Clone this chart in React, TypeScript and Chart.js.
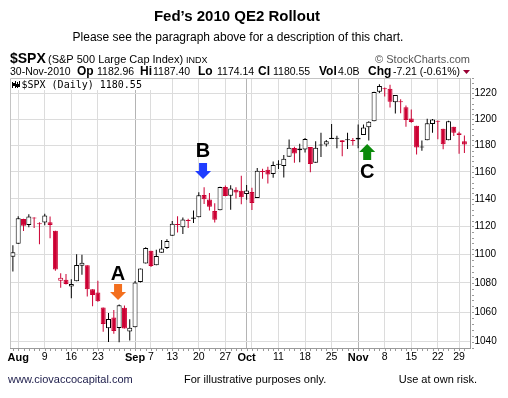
import React, { useEffect, useRef } from 'react';
import { Chart, registerables } from 'chart.js';

Chart.register(...registerables);

const FONT = '"Liberation Sans", Arial, Helvetica, sans-serif';
const MONO = '"DejaVu Sans Mono", "Liberation Mono", monospace';

// Trading days, 30-Jul-2010 .. 30-Nov-2010
const dates = [
  'Jul30',
  'Aug2', 'Aug3', 'Aug4', 'Aug5', 'Aug6', 'Aug9', 'Aug10', 'Aug11', 'Aug12', 'Aug13',
  'Aug16', 'Aug17', 'Aug18', 'Aug19', 'Aug20', 'Aug23', 'Aug24', 'Aug25', 'Aug26', 'Aug27',
  'Aug30', 'Aug31', 'Sep1', 'Sep2', 'Sep3', 'Sep7', 'Sep8', 'Sep9', 'Sep10',
  'Sep13', 'Sep14', 'Sep15', 'Sep16', 'Sep17', 'Sep20', 'Sep21', 'Sep22', 'Sep23', 'Sep24',
  'Sep27', 'Sep28', 'Sep29', 'Sep30', 'Oct1', 'Oct4', 'Oct5', 'Oct6', 'Oct7', 'Oct8',
  'Oct11', 'Oct12', 'Oct13', 'Oct14', 'Oct15', 'Oct18', 'Oct19', 'Oct20', 'Oct21', 'Oct22',
  'Oct25', 'Oct26', 'Oct27', 'Oct28', 'Oct29', 'Nov1', 'Nov2', 'Nov3', 'Nov4', 'Nov5',
  'Nov8', 'Nov9', 'Nov10', 'Nov11', 'Nov12', 'Nov15', 'Nov16', 'Nov17', 'Nov18', 'Nov19',
  'Nov22', 'Nov23', 'Nov24', 'Nov26', 'Nov29', 'Nov30',
];

const opens = [
  1098.44,
  1107.53, 1125.34, 1121.06, 1125.78, 1122.07, 1122.80, 1122.92, 1116.89, 1081.48, 1082.22,
  1077.49, 1081.16, 1092.08, 1092.44, 1075.63, 1073.36, 1063.20, 1048.98, 1056.28, 1049.27,
  1062.90, 1046.88, 1049.72, 1080.66, 1093.61, 1102.60, 1092.36, 1101.15, 1104.57,
  1113.38, 1121.16, 1119.43, 1123.89, 1126.39, 1126.57, 1142.82, 1139.49, 1131.10, 1131.69,
  1148.64, 1142.31, 1146.75, 1145.97, 1143.49, 1144.96, 1140.68, 1159.81, 1161.57, 1158.36,
  1165.32, 1164.28, 1171.32, 1177.82, 1177.47, 1176.83, 1178.64, 1166.74, 1179.82, 1180.52,
  1184.74, 1184.88, 1183.84, 1184.47, 1183.87, 1185.71, 1187.86, 1193.79, 1198.34, 1221.20,
  1223.24, 1223.59, 1213.14, 1213.04, 1209.07, 1200.44, 1194.79, 1178.33, 1183.75, 1196.12,
  1198.07, 1192.51, 1183.70, 1194.16, 1189.08, 1182.96,
];

const highs = [
  1106.44,
  1127.30, 1125.44, 1128.75, 1126.56, 1123.06, 1129.24, 1127.16, 1116.89, 1086.72, 1086.25,
  1082.62, 1100.14, 1099.77, 1092.44, 1075.63, 1081.58, 1063.20, 1059.38, 1061.45, 1065.21,
  1064.40, 1055.14, 1081.30, 1090.10, 1105.10, 1102.60, 1103.26, 1110.27, 1110.88,
  1123.87, 1127.36, 1126.46, 1125.44, 1131.47, 1144.86, 1148.59, 1144.38, 1136.77, 1148.90,
  1149.92, 1150.00, 1148.63, 1157.16, 1150.30, 1148.16, 1162.76, 1162.33, 1163.87, 1167.73,
  1168.68, 1172.58, 1184.38, 1178.89, 1181.20, 1185.53, 1178.64, 1182.94, 1189.43, 1183.93,
  1196.14, 1187.11, 1183.84, 1189.53, 1185.46, 1195.81, 1195.88, 1198.30, 1221.25, 1227.08,
  1224.57, 1226.84, 1218.75, 1215.45, 1210.50, 1207.43, 1194.79, 1183.56, 1200.29, 1199.97,
  1198.94, 1192.51, 1198.62, 1194.16, 1190.34, 1187.40,
];

const lows = [
  1088.01,
  1107.53, 1116.76, 1119.46, 1118.81, 1107.17, 1120.91, 1111.58, 1088.55, 1076.69, 1079.00,
  1069.49, 1081.16, 1085.76, 1070.66, 1063.91, 1067.08, 1046.68, 1039.83, 1045.40, 1039.70,
  1048.79, 1040.88, 1049.72, 1080.39, 1093.61, 1091.15, 1092.36, 1101.15, 1103.92,
  1113.38, 1115.58, 1114.63, 1118.88, 1122.43, 1126.57, 1136.22, 1131.58, 1122.79, 1131.69,
  1142.00, 1132.09, 1140.26, 1136.08, 1139.42, 1131.87, 1140.68, 1154.85, 1151.41, 1155.58,
  1162.02, 1155.71, 1171.32, 1166.71, 1167.12, 1174.55, 1159.71, 1166.74, 1171.17, 1178.99,
  1184.74, 1177.72, 1171.70, 1177.10, 1179.70, 1177.65, 1187.86, 1183.56, 1198.34, 1220.29,
  1217.55, 1208.94, 1204.33, 1204.49, 1194.08, 1197.15, 1173.00, 1175.82, 1183.75, 1189.44,
  1184.58, 1176.91, 1183.70, 1186.93, 1173.64, 1174.14,
];

const closes = [
  1101.60,
  1125.86, 1120.46, 1127.24, 1125.81, 1121.64, 1127.79, 1121.06, 1089.47, 1083.61, 1079.25,
  1079.38, 1092.54, 1094.16, 1075.63, 1071.69, 1067.36, 1051.87, 1055.33, 1047.22, 1064.59,
  1048.92, 1049.33, 1080.29, 1090.10, 1104.51, 1091.84, 1098.87, 1104.18, 1109.55,
  1121.90, 1121.10, 1125.07, 1124.66, 1125.59, 1142.71, 1139.78, 1134.28, 1124.83, 1148.67,
  1142.16, 1147.70, 1144.73, 1141.20, 1146.24, 1137.03, 1160.75, 1159.97, 1158.06, 1165.15,
  1165.32, 1169.77, 1178.10, 1173.81, 1176.19, 1184.71, 1165.90, 1178.17, 1180.26, 1183.08,
  1185.62, 1185.64, 1182.45, 1183.78, 1183.26, 1184.38, 1193.57, 1197.96, 1221.06, 1225.85,
  1223.25, 1213.40, 1218.71, 1213.54, 1199.21, 1197.75, 1178.34, 1178.59, 1196.69, 1199.73,
  1197.84, 1180.73, 1198.35, 1189.40, 1187.76, 1180.55,
];

const priorClose = 1101.53; // close of 29-Jul-2010
const volumeText = '4.0B';

const xTickIndex = [1, 6, 11, 16, 23, 26, 30, 35, 40, 44, 45, 50, 55, 60, 65, 70, 75, 80, 84];
const xTickLabels = ['Aug', '9', '16', '23', 'Sep', '7', '13', '20', '27', 'Oct', '', '11', '18', '25', 'Nov', '8', '15', '22', '29'];
const boldTickLabels = ['Aug', 'Sep', 'Oct', 'Nov'];
const darkGridLabels = ['Sep', 'Oct', 'Nov'];
const yTicks = [1040, 1060, 1080, 1100, 1120, 1140, 1160, 1180, 1200, 1220];

const markLabels = ['A', 'B', 'C'];
const markIndex = [19.8, 35.8, 66.7];
const markTip = [1068.3, 1154.6, 1180.9];
const markTextBase = [1082.1, 1170.8, 1155.1];
const markDir = ['down', 'down', 'up'];
const markColor = ['#f36f1e', '#1f3dff', '#0b8a0b'];

const RED = '#cc0033';

function labelFor(v: number): string {
  const k = xTickIndex.indexOf(v);
  return k >= 0 ? xTickLabels[k] : '';
}

function txt(ctx: CanvasRenderingContext2D, s: string, x: number, y: number, font: string, color = '#000', align: CanvasTextAlign = 'left') {
  ctx.font = font;
  ctx.fillStyle = color;
  ctx.textAlign = align;
  ctx.textBaseline = 'alphabetic';
  ctx.fillText(s, x, y);
}

export default function App() {
  const ref = useRef<HTMLCanvasElement>(null);

  useEffect(() => {
    const canvas = ref.current;
    if (!canvas) return;
    const last = closes.length - 1;
    const col = closes.map((c, i) => (c >= (i === 0 ? priorClose : closes[i - 1]) ? '#000000' : RED));
    const hollow = closes.map((c, i) => c >= opens[i]);

    const decor = {
      id: 'decor',
      beforeDraw(chart: any) {
        const ctx = chart.ctx as CanvasRenderingContext2D;
        ctx.save();
        ctx.fillStyle = '#ffffff';
        ctx.fillRect(0, 0, chart.width, chart.height);
        ctx.restore();
      },
      beforeDatasetsDraw(chart: any) {
        const ctx = chart.ctx as CanvasRenderingContext2D;
        const { left, top, bottom } = chart.chartArea;
        ctx.save();
        // legend box
        ctx.fillStyle = '#ffffff';
        ctx.fillRect(left + 1, top + 1, 145, 11);
        // left & top frame
        ctx.strokeStyle = '#c4c4c4';
        ctx.lineWidth = 1;
        ctx.beginPath();
        ctx.moveTo(Math.floor(left) + 0.5, bottom);
        ctx.lineTo(Math.floor(left) + 0.5, Math.floor(top) + 0.5);
        ctx.lineTo(chart.chartArea.right, Math.floor(top) + 0.5);
        ctx.stroke();
        // legend icon
        ctx.fillStyle = '#000';
        const ix = Math.floor(left) + 2;
        ctx.fillRect(ix, 82, 1, 6);
        ctx.fillRect(ix + 1, 83, 2, 3);
        ctx.fillRect(ix + 3, 81, 1, 7);
        ctx.fillRect(ix + 5, 82, 1, 6);
        ctx.fillRect(ix + 4, 84, 3, 3);
        ctx.fillRect(ix + 7, 81, 1, 6);
        txt(ctx, `$SPX (Daily) ${closes[last].toFixed(2)}`, 21.5, 88, `10px ${MONO}`, '#000');
        ctx.restore();
      },
      afterDraw(chart: any) {
        const ctx = chart.ctx as CanvasRenderingContext2D;
        const xs = chart.scales.x;
        const ys = chart.scales.y;
        const { right, bottom } = chart.chartArea;
        ctx.save();
        // minor ticks
        ctx.fillStyle = '#9a9a9a';
        for (let i = 0; i < closes.length; i++) {
          const px = Math.round(xs.getPixelForValue(i));
          ctx.fillRect(px, Math.round(bottom) + 1, 1, 2);
        }
        for (let v = 1036; v <= 1232; v += 4) {
          const py = Math.round(ys.getPixelForValue(v));
          ctx.fillRect(Math.round(right) + 1, py, 2, 1);
        }
        // titles
        txt(ctx, 'Fed\u2019s 2010 QE2 Rollout', 237, 21, `bold 15px ${FONT}`, '#000', 'center');
        txt(ctx, 'Please see the paragraph above for a description of this chart.', 238, 41, `12px ${FONT}`, '#000', 'center');
        // symbol header
        txt(ctx, '$SPX', 10, 63, `bold 14px ${FONT}`, '#000');
        txt(ctx, '(S&P 500 Large Cap Index)', 48, 63, `11px ${FONT}`, '#000');
        txt(ctx, 'INDX', 186, 63, `9px ${FONT}`, '#000');
        txt(ctx, '\u00A9 StockCharts.com', 470, 63, `11px ${FONT}`, '#555', 'right');
        const chg = closes[last] - closes[last - 1];
        const pct = (chg / closes[last - 1]) * 100;
        const row: [string, number, boolean][] = [
          ['30-Nov-2010', 10, false],
          ['Op', 77, true],
          [opens[last].toFixed(2), 97, false],
          ['Hi', 140, true],
          [highs[last].toFixed(2), 153, false],
          ['Lo', 198, true],
          [lows[last].toFixed(2), 217, false],
          ['Cl', 258, true],
          [closes[last].toFixed(2), 273, false],
          ['Vol', 319, true],
          [volumeText, 338, false],
          ['Chg', 368, true],
          [`${chg.toFixed(2)} (${pct.toFixed(2)}%)`, 393, false],
        ];
        row.forEach(([s, x, b]) => txt(ctx, s, x, 75, b ? `bold 12px ${FONT}` : `10.5px ${FONT}`, '#000'));
        ctx.fillStyle = '#990033';
        ctx.beginPath();
        ctx.moveTo(463, 70);
        ctx.lineTo(470, 70);
        ctx.lineTo(466.5, 74);
        ctx.closePath();
        ctx.fill();
        // footer
        txt(ctx, 'www.ciovaccocapital.com', 8, 383, `11px ${FONT}`, '#1c1c4a');
        txt(ctx, 'For illustrative purposes only.', 184, 383, `11px ${FONT}`, '#000');
        txt(ctx, 'Use at own risk.', 477, 383, `11px ${FONT}`, '#000', 'right');
        // annotations
        for (let k = 0; k < markLabels.length; k++) {
          const cx = xs.getPixelForValue(markIndex[k]);
          const tip = ys.getPixelForValue(markTip[k]);
          const s = markDir[k] === 'down' ? -1 : 1;
          ctx.fillStyle = markColor[k];
          ctx.beginPath();
          ctx.moveTo(cx, tip);
          ctx.lineTo(cx + 8, tip + s * 8);
          ctx.lineTo(cx + 4, tip + s * 8);
          ctx.lineTo(cx + 4, tip + s * 16);
          ctx.lineTo(cx - 4, tip + s * 16);
          ctx.lineTo(cx - 4, tip + s * 8);
          ctx.lineTo(cx - 8, tip + s * 8);
          ctx.closePath();
          ctx.fill();
          txt(ctx, markLabels[k], cx, ys.getPixelForValue(markTextBase[k]), `bold 20px ${FONT}`, '#000', 'center');
        }
        ctx.restore();
      },
    };

    const chart = new Chart(canvas, {
      type: 'bar',
      data: {
        datasets: [
          {
            label: 'body',
            data: dates.map((_, i) => ({ x: i, y: [opens[i], closes[i]] })) as any,
            backgroundColor: hollow.map((h, i) => (h ? '#ffffff' : col[i])),
            borderColor: col,
            borderWidth: 1,
            borderSkipped: false,
            barThickness: 5,
            minBarLength: 1,
            grouped: false,
            inflateAmount: 0,
            order: 1,
          } as any,
          {
            label: 'wick',
            data: dates.map((_, i) => ({ x: i, y: [lows[i], highs[i]] })) as any,
            backgroundColor: col,
            borderWidth: 0,
            barThickness: 1,
            grouped: false,
            inflateAmount: 0,
            order: 2,
          } as any,
        ],
      },
      options: {
        responsive: false,
        animation: false,
        devicePixelRatio: 1,
        layout: { padding: { top: 78, left: 10.5, right: 0, bottom: 0 } },
        plugins: {
          legend: { display: false },
          tooltip: { enabled: false },
          title: { display: false },
        },
        scales: {
          x: {
            type: 'linear',
            min: -0.45,
            max: 86.15,
            offset: false,
            afterBuildTicks: (s: any) => {
              s.ticks = xTickIndex.map((v) => ({ value: v }));
            },
            afterFit: (s: any) => {
              s.height = 50;
            },
            grid: {
              offset: false,
              drawTicks: false,
              color: (ctx: any) => (darkGridLabels.includes(labelFor(ctx.tick?.value)) ? '#b4b4b4' : '#dcdcdc'),
            },
            border: { color: '#9a9a9a' },
            ticks: {
              autoSkip: false,
              maxRotation: 0,
              padding: 3,
              color: '#000',
              callback: (v: any) => labelFor(Number(v)),
              font: (ctx: any) =>
                boldTickLabels.includes(labelFor(ctx.tick?.value))
                  ? { family: FONT, size: 11, weight: 'bold' }
                  : { family: FONT, size: 10.5 },
            },
          },
          y: {
            type: 'logarithmic',
            position: 'right',
            min: 1035.8,
            max: 1232.1,
            afterBuildTicks: (s: any) => {
              s.ticks = yTicks.map((v) => ({ value: v }));
            },
            afterFit: (s: any) => {
              s.width = 37.5;
            },
            grid: { drawTicks: false, color: '#dcdcdc' },
            border: { color: '#9a9a9a' },
            ticks: {
              autoSkip: false,
              padding: 4,
              color: '#000',
              font: { family: FONT, size: 10 },
              callback: (v: any) => String(v),
            },
          },
        },
      } as any,
      plugins: [decor],
    });
    return () => chart.destroy();
  }, []);

  return (
    <div style={{ position: 'absolute', left: 0, top: 0, width: 508, height: 398, background: '#fff' }}>
      <canvas ref={ref} width={508} height={398} style={{ display: 'block', width: 508, height: 398 }} />
    </div>
  );
}
